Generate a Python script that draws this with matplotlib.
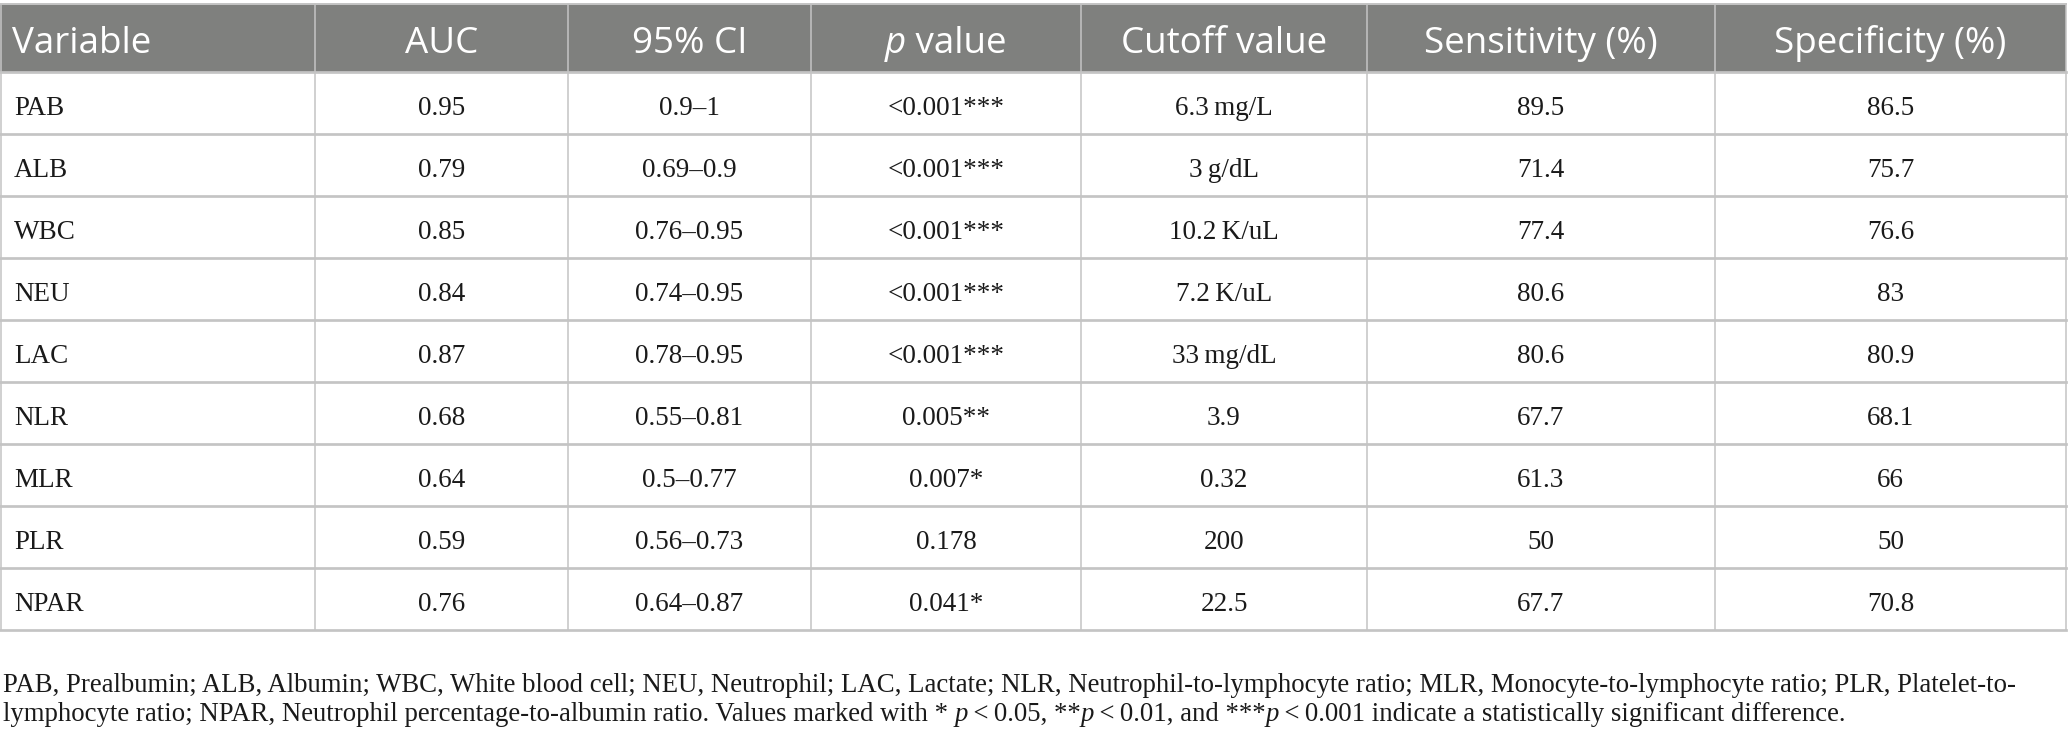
import matplotlib
matplotlib.use("Agg")
import matplotlib.pyplot as plt
from matplotlib.patches import Rectangle

# table content
headers = ["Variable", "AUC", "95% CI", "p value", "Cutoff value", "Sensitivity (%)", "Specificity (%)"]
variables = ["PAB", "ALB", "WBC", "NEU", "LAC", "NLR", "MLR", "PLR", "NPAR"]
auc = ["0.95", "0.79", "0.85", "0.84", "0.87", "0.68", "0.64", "0.59", "0.76"]
ci95 = ["0.9\u20131", "0.69\u20130.9", "0.76\u20130.95", "0.74\u20130.95", "0.78\u20130.95",
        "0.55\u20130.81", "0.5\u20130.77", "0.56\u20130.73", "0.64\u20130.87"]
p_values = ["<0.001***", "<0.001***", "<0.001***", "<0.001***", "<0.001***",
            "0.005**", "0.007*", "0.178", "0.041*"]
cutoff = ["6.3\u2009mg/L", "3\u2009g/dL", "10.2\u2009K/uL", "7.2\u2009K/uL", "33\u2009mg/dL",
          "3.9", "0.32", "200", "22.5"]
sensitivity = ["89.5", "71.4", "77.4", "80.6", "80.6", "67.7", "61.3", "50", "67.7"]
specificity = ["86.5", "75.7", "76.6", "83", "80.9", "68.1", "66", "50", "70.8"]

note_line1 = [("PAB, Prealbumin; ALB, Albumin; WBC, White blood cell; NEU, Neutrophil; LAC, Lactate; "
               "NLR, Neutrophil-to-lymphocyte ratio; MLR, Monocyte-to-lymphocyte ratio; PLR, Platelet-to-", "normal")]
note_line2 = [("lymphocyte ratio; NPAR, Neutrophil percentage-to-albumin ratio. Values marked with * ", "normal"),
              ("p", "italic"), ("\u2009<\u20090.05, **", "normal"), ("p", "italic"),
              ("\u2009<\u20090.01, and ***", "normal"), ("p", "italic"),
              ("\u2009<\u20090.001 indicate a statistically significant difference.", "normal")]

W, H = 2068, 748
col_edges = [0, 315, 568, 811, 1081, 1367, 1715, 2066]
head_top, head_bot = 4, 72
row_h = 62

HEAD_BG = "#7f807e"
GRID = "#c4c4c4"
SERIF = ["Liberation Serif", "DejaVu Serif"]
SANS = ["Open Sans", "DejaVu Sans"]

fig = plt.figure(figsize=(W / 100, H / 100), dpi=100)
ax = fig.add_axes([0, 0, 1, 1])
ax.set_xlim(0, W)
ax.set_ylim(H, 0)
ax.axis("off")
renderer = fig.canvas.get_renderer()


def advance(s, **kw):
    # width of a string including spaces, measured with a bar guard
    t1 = ax.text(0, 0, s + "|", **kw)
    t2 = ax.text(0, 0, "|", **kw)
    w = t1.get_window_extent(renderer).width - t2.get_window_extent(renderer).width
    t1.remove()
    t2.remove()
    return w


def draw_runs(x, y, parts, ha="left", **kw):
    widths = [advance(s, style=st, **kw) for s, st in parts]
    total = sum(widths)
    if ha == "center":
        x = x - total / 2
    for (s, st), w in zip(parts, widths):
        ax.text(x, y, s, style=st, ha="left", va="baseline", **kw)
        x += w


# header band
ax.add_patch(Rectangle((col_edges[0], head_top), col_edges[-1] - col_edges[0],
                       head_bot - head_top, facecolor=HEAD_BG, edgecolor="none"))

head_kw = dict(family=SANS, fontsize=26.5, color="white")
for i, h in enumerate(headers):
    cx = (col_edges[i] + col_edges[i + 1]) / 2
    if i == 0:
        ax.text(col_edges[0] + 12, head_bot - 19, h, ha="left", va="baseline", **head_kw)
    elif h == "p value":
        draw_runs(cx, head_bot - 19, [("p", "italic"), (" value", "normal")], ha="center", **head_kw)
    else:
        ax.text(cx, head_bot - 19, h, ha="center", va="baseline", **head_kw)

# body rows
columns = [variables, auc, ci95, p_values, cutoff, sensitivity, specificity]
body_kw = dict(family=SERIF, fontsize=19.5, color="#1a1a1a")
n_rows = len(variables)
for r in range(n_rows):
    top = head_bot + r * row_h
    base = top + 43
    for c, col in enumerate(columns):
        if c == 0:
            ax.text(col_edges[0] + 14, base, col[r], ha="left", va="baseline", **body_kw)
        else:
            cx = (col_edges[c] + col_edges[c + 1]) / 2
            ax.text(cx, base, col[r], ha="center", va="baseline", **body_kw)

table_bot = head_bot + n_rows * row_h

# grid lines
lw = 1.4
ax.plot([col_edges[0], col_edges[-1]], [head_top, head_top], color=GRID, lw=lw)
for r in range(n_rows + 1):
    y = head_bot + r * row_h
    ax.plot([col_edges[0], col_edges[-1]], [y, y], color=GRID, lw=lw * 1.4)
for x in col_edges:
    xx = min(max(x, 1), W - 2)
    ax.plot([xx, xx], [head_top, table_bot], color=GRID, lw=lw * 0.8)

# footnote, sized so the first line spans the table width
note_kw = dict(family=SERIF, color="#1a1a1a")
target = 2005
w0 = sum(advance(s, style=st, fontsize=17.4, **note_kw) for s, st in note_line1)
note_size = 17.4 * target / w0
draw_runs(3, 692, note_line1, fontsize=note_size, **note_kw)
draw_runs(3, 721, note_line2, fontsize=note_size, **note_kw)

fig.savefig("out.png", dpi=100, facecolor="white")
